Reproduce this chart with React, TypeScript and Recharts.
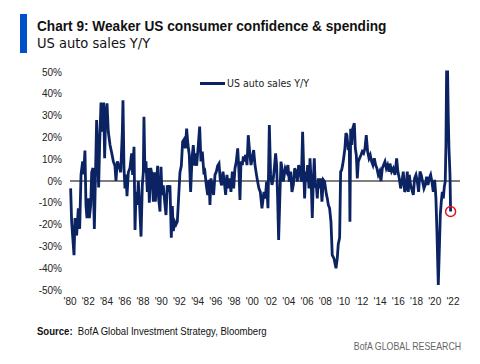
import React from 'react';
import { LineChart, Line, XAxis, YAxis, ReferenceLine, ReferenceDot } from 'recharts';

// decimal year of each reading
const dates = [
  1980.07, 1980.18, 1980.44, 1980.55, 1980.73, 1980.91, 1981.06, 1981.21, 1981.39, 1981.5,
  1981.64, 1981.75, 1981.86, 1982.01, 1982.12, 1982.27, 1982.38, 1982.52, 1982.67, 1982.81,
  1982.92, 1983.03, 1983.14, 1983.25, 1983.4, 1983.55, 1983.69, 1983.8, 1983.91, 1984.06,
  1984.2, 1984.39, 1984.57, 1984.75, 1984.93, 1985.04, 1985.19, 1985.37, 1985.56, 1985.74,
  1985.81, 1985.92, 1986.03, 1986.14, 1986.25, 1986.4, 1986.58, 1986.76, 1986.87, 1987.02,
  1987.13, 1987.24, 1987.38, 1987.49, 1987.6, 1987.79, 1987.93, 1988.04, 1988.11, 1988.22,
  1988.33, 1988.48, 1988.59, 1988.7, 1988.85, 1988.99, 1989.14, 1989.25, 1989.36, 1989.5,
  1989.61, 1989.72, 1989.87, 1989.98, 1990.09, 1990.23, 1990.38, 1990.53, 1990.67, 1990.82,
  1990.96, 1991.11, 1991.22, 1991.33, 1991.48, 1991.62, 1991.77, 1991.92, 1992.06, 1992.21,
  1992.35, 1992.5, 1992.65, 1992.79, 1992.94, 1993.08, 1993.23, 1993.38, 1993.52, 1993.67,
  1993.71, 1993.89, 1994.07, 1994.22, 1994.36, 1994.51, 1994.69, 1994.8, 1994.95, 1995.1,
  1995.24, 1995.35, 1995.46, 1995.61, 1995.75, 1995.9, 1996.05, 1996.19, 1996.34, 1996.48,
  1996.63, 1996.78, 1996.92, 1997.07, 1997.21, 1997.36, 1997.51, 1997.65, 1997.8, 1997.95,
  1998.09, 1998.24, 1998.39, 1998.53, 1998.64, 1998.75, 1998.9, 1999.01, 1999.12, 1999.26,
  1999.41, 1999.55, 1999.7, 1999.85, 1999.99, 2000.14, 2000.29, 2000.43, 2000.58, 2000.72,
  2000.87, 2001.05, 2001.27, 2001.42, 2001.56, 2001.71, 2001.86, 2002.0, 2002.15, 2002.3,
  2002.44, 2002.55, 2002.66, 2002.77, 2002.88, 2003.03, 2003.14, 2003.25, 2003.39, 2003.5,
  2003.61, 2003.76, 2003.9, 2004.05, 2004.2, 2004.34, 2004.49, 2004.64, 2004.78, 2004.93,
  2005.07, 2005.22, 2005.37, 2005.51, 2005.66, 2005.73, 2005.84, 2005.95, 2006.06, 2006.21,
  2006.32, 2006.46, 2006.57, 2006.68, 2006.79, 2006.9, 2007.01, 2007.12, 2007.23, 2007.34,
  2007.49, 2007.63, 2007.78, 2007.92, 2008.11, 2008.22, 2008.33, 2008.47, 2008.62, 2008.76,
  2008.95, 2009.17, 2009.31, 2009.42, 2009.57, 2009.68, 2009.79, 2009.9, 2010.01, 2010.15,
  2010.26, 2010.37, 2010.52, 2010.63, 2010.7, 2010.78, 2010.89, 2011.0, 2011.18, 2011.29,
  2011.4, 2011.51, 2011.62, 2011.76, 2011.91, 2012.05, 2012.2, 2012.35, 2012.49, 2012.64,
  2012.79, 2012.93, 2013.08, 2013.22, 2013.37, 2013.52, 2013.66, 2013.81, 2013.96, 2014.1,
  2014.25, 2014.39, 2014.54, 2014.69, 2014.83, 2014.98, 2015.09, 2015.27, 2015.45, 2015.64,
  2015.82, 2015.96, 2016.11, 2016.26, 2016.4, 2016.55, 2016.7, 2016.84, 2016.99, 2017.1,
  2017.21, 2017.35, 2017.5, 2017.65, 2017.79, 2017.94, 2018.09, 2018.23, 2018.38, 2018.52,
  2018.67, 2018.82, 2018.96, 2019.11, 2019.26, 2019.4, 2019.55, 2019.69, 2019.84, 2019.99,
  2020.06, 2020.13, 2020.24, 2020.39, 2020.5, 2020.61, 2020.72, 2020.83, 2020.94, 2021.05,
  2021.15, 2021.23, 2021.3, 2021.41, 2021.48, 2021.56, 2021.67, 2021.74,
];

// US auto sales, % change year on year
const yoy = [
  -3.4, -18.7, -34, -17, -25, -12.5, -22, 3, 9, 3,
  14, -11, -17, -8, -17, -11, 4, 6, -22, 6,
  28, 15, -3, 16.5, 36, 22.6, 36, 10.4, 30, 35.6,
  22.6, 16.5, 13, 9, 7, 0, 9, 7, 4, 22.6,
  37, 6, -3.4, 3, -7, 4, 6, 12.7, 2.8, 15.7,
  -22.5, -5, -11, 0, -8, -25.5, -2, 4, 29.5, 4,
  9, -5, 6, -10, 6, 3, -9.5, 4, -9.5, 0,
  7, -8, -14, 6.5, -6.4, -2, -9.5, -15.6, -2, -5,
  -2, -26, -11.5, -23, -18.7, -20, -18.7, -7, 4, 7,
  18, 19, 15, 24, 16.5, 12, -5, 10.4, 16.5, 7,
  12.7, 7, 16.5, 25, 9, 13.5, 3, 4, -2, -6.4,
  0.5, -11, 1.2, -3, -6.4, 2.8, 4.3, 7, 8, 0.5,
  -2, 4.3, -0.3, -6.4, 2.8, -3.4, 1.2, -5, 4.3, -3.4,
  5.8, 9, 15, 4.3, -8.7, 8.9, 7.3, 11.3, 8.9, 12,
  7.3, 21, 13.5, 7.3, 10.4, 14.2, 7.3, 3.4, -0.3, -3.4,
  -5, -12.5, -5, -8, -0.3, -12.5, 25.7, 2.8, -1.8, 1.2,
  7.3, 12.7, 7.3, -8, -27, -5, 8.9, 5.8, -0.3, 2.8,
  5.8, 4.3, 7.3, -0.3, 4.3, -5, -1.8, 5.8, 4.3, -0.3,
  7.3, 4.3, -0.3, 22.6, 1.2, -8, 4.3, -0.3, 7.3, -3.4,
  10.4, -1.8, -17, -0.3, 10.4, -3, -1.8, -8, 1.2, -3.4,
  1.2, -9.5, 0.5, -0.3, -6, -8, -11, -12.5, -18.7, -34,
  -35.5, -40, -35.5, -29, -26, 4.3, 5, 7.3, 10.4, 15,
  22, 21, 14.2, 18, -18.7, 24, 16.5, 24, 26.5, 15,
  11.9, 1.2, 9, 10.4, 11.9, 13.5, 12.7, 15, 21, 13.5,
  10.4, 11.9, 8.9, 7.3, 10.4, 7.3, 5.8, 2.8, 4.3, 0,
  5.8, 7.3, 8.9, 5.8, 7.3, 4.3, 8, 4.3, 5.8, 2.8,
  10.4, 4.3, 1.2, -3.4, -0.3, 4.3, -5, -3.4, 4.3, -5,
  2.8, -1.8, -4.1, -6.4, 1.2, 2.8, -0.3, -5, 4.3, 2.8,
  -0.3, -3.4, -1.8, 2, -1.8, 1.2, 2.8, -0.3, -5, 0.5,
  -3.4, -8, -23, -47.7, -32, -15.6, -9.5, -5, -8, -2.6,
  -0.3, 16.5, 50, 50, 30, 15, 3, -14,
];

const yearTicks = [
  1980, 1982, 1984, 1986, 1988, 1990, 1992, 1994, 1996, 1998, 2000,
  2002, 2004, 2006, 2008, 2010, 2012, 2014, 2016, 2018, 2020, 2022,
];
const pctTicks = [-50, -40, -30, -20, -10, 0, 10, 20, 30, 40, 50];

const NAVY = '#0b2263';
const CONDENSED = '"DejaVu Sans Condensed", "Liberation Sans", sans-serif';
const SANS = '"Liberation Sans", Arial, sans-serif';

const data = dates.map((t, i) => ({ t, v: yoy[i] }));
const last = data[data.length - 1];

export default function App() {
  const tickStyle = { fontSize: 10, fill: '#222', fontFamily: SANS };
  return (
    <div style={{ position: 'absolute', left: 0, top: 0, width: 480, height: 364, background: '#fff', fontFamily: SANS, color: '#111' }}>
      <div style={{ position: 'absolute', left: 20, top: 14, width: 7, height: 39, background: '#0050c8' }} />
      <div
        style={{
          position: 'absolute', left: 37, top: 17, fontSize: 14, fontWeight: 700,
          lineHeight: '18px', whiteSpace: 'nowrap', transform: 'scaleX(0.975)', transformOrigin: 'left center',
        }}
      >
        Chart 9: Weaker US consumer confidence &amp; spending
      </div>
      <div style={{ position: 'absolute', left: 37, top: 34, fontFamily: CONDENSED, fontSize: 14.5, lineHeight: '18px', whiteSpace: 'nowrap' }}>
        US auto sales Y/Y
      </div>

      <LineChart width={480} height={364} data={data} margin={{ top: 72, right: 20, bottom: 44, left: 20 }}>
        <XAxis
          dataKey="t"
          type="number"
          domain={[1980, 2022.77]}
          ticks={yearTicks}
          tickFormatter={(y: number) => "'" + String(y).slice(2)}
          axisLine={false}
          tickLine={false}
          tick={tickStyle}
          interval={0}
          height={30}
        />
        <YAxis
          type="number"
          domain={[-50, 50]}
          ticks={pctTicks}
          tickFormatter={(v: number) => v + '%'}
          axisLine={false}
          tickLine={false}
          tick={tickStyle}
          width={50}
          interval={0}
        />
        <ReferenceLine y={0} stroke="#000" strokeWidth={1.2} />
        <Line
          type="linear"
          dataKey="v"
          stroke={NAVY}
          strokeWidth={2.8}
          dot={false}
          isAnimationActive={false}
        />
        <ReferenceDot x={last.t} y={last.v} r={5} fill="none" stroke="#e3161d" strokeWidth={1.5} />
      </LineChart>

      <div style={{ position: 'absolute', left: 200, top: 76, display: 'flex', alignItems: 'center', fontFamily: CONDENSED, fontSize: 10.5, lineHeight: '14px', color: '#222' }}>
        <span style={{ display: 'inline-block', width: 25, height: 3, background: NAVY, marginRight: 2 }} />
        US auto sales Y/Y
      </div>

      <div
        style={{
          position: 'absolute', left: 37, top: 325, fontSize: 10, lineHeight: '14px',
          whiteSpace: 'nowrap', transform: 'scaleX(0.955)', transformOrigin: 'left center',
        }}
      >
        <b>Source:</b>&nbsp; BofA Global Investment Strategy, Bloomberg
      </div>
      <div
        style={{
          position: 'absolute', right: 19, top: 339, fontSize: 11, lineHeight: '14px', color: '#666',
          whiteSpace: 'nowrap', transform: 'scaleX(0.8)', transformOrigin: 'right center',
        }}
      >
        BofA GLOBAL RESEARCH
      </div>
    </div>
  );
}
